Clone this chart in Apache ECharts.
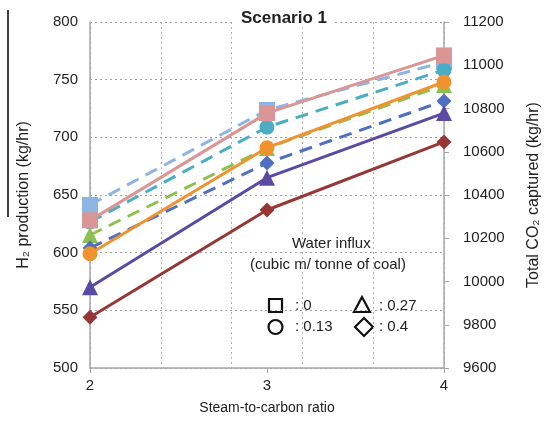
<!DOCTYPE html>
<html>
<head>
<meta charset="utf-8">
<script src="https://cdn.jsdelivr.net/npm/echarts@6/dist/echarts.min.js"></script>
<style>
  html, body { margin: 0; padding: 0; background: #fff; }
  #chart { width: 544px; height: 427px; }
</style>
</head>
<body>
<div id="chart"></div>
<script>
// steam-to-carbon ratio
var ratios = [2, 3, 4]

// H2 production (kg/hr), left axis, solid lines
var h2Water0 = [628, 721, 771]
var h2Water013 = [599, 691, 748]
var h2Water027 = [570, 665, 721]
var h2Water04 = [544, 637, 696]

// total CO2 captured (kg/hr), right axis, dashed lines
var co2Water0 = [10354, 10793, 11015]
var co2Water013 = [10275, 10714, 10978]
var co2Water027 = [10215, 10617, 10909]
var co2Water04 = [10155, 10548, 10835]

var leftTicks = [500, 800, 50]
var rightTicks = [9600, 11200, 200]

function pairs(vals) {
  return ratios.map(function (r, i) { return [r, vals[i]] })
}

var chart = echarts.init(document.getElementById('chart'))
var font = 'Liberation Sans, Arial, sans-serif'
var grid = '#a6a6a6'

function line(name, vals, color, symbol, size, dashed, axis) {
  return {
    name: name,
    type: 'line',
    yAxisIndex: axis,
    data: pairs(vals),
    symbol: symbol,
    symbolSize: size,
    lineStyle: { color: color, width: 3, type: dashed ? [13, 8] : 'solid' },
    itemStyle: { color: color },
    z: dashed ? 2 : 3,
    animation: false
  }
}

chart.setOption({
  animation: false,
  title: {
    text: 'Scenario 1',
    left: 278,
    textAlign: 'center',
    top: 9,
    backgroundColor: '#fff',
    padding: [1, 6],
    textStyle: { fontFamily: font, fontSize: 17, fontWeight: 'bold', color: '#222' }
  },
  grid: { left: 90, right: 100, top: 22, bottom: 59, outerBoundsMode: 'none' },
  xAxis: [
    {
      type: 'value',
      min: 2,
      max: 4,
      interval: 1,
      name: 'Steam-to-carbon ratio',
      nameLocation: 'middle',
      nameGap: 33,
      nameTextStyle: { fontFamily: font, fontSize: 14, color: '#222' },
      axisLine: { lineStyle: { color: grid, width: 1.5 } },
      axisTick: { show: true, length: 5, lineStyle: { color: grid } },
      axisLabel: { fontFamily: font, fontSize: 15, color: '#222', margin: 10 },
      splitLine: { show: false }
    },
    {
      type: 'value',
      min: 2,
      max: 4,
      interval: 0.4,
      position: 'bottom',
      axisLine: { show: false },
      axisTick: { show: false },
      axisLabel: { show: false },
      splitLine: { show: true, lineStyle: { color: '#b0b0b0', type: [2, 3], width: 1 } }
    }
  ],
  yAxis: [
    {
      type: 'value',
      min: leftTicks[0],
      max: leftTicks[1],
      interval: leftTicks[2],
      name: 'H\u2082 production (kg/hr)',
      nameLocation: 'middle',
      nameGap: 58,
      nameTextStyle: { fontFamily: font, fontSize: 16, color: '#222' },
      axisLine: { show: true, lineStyle: { color: grid, width: 1.5 } },
      axisTick: { show: false },
      axisLabel: { fontFamily: font, fontSize: 15, color: '#222', margin: 12 },
      splitLine: { show: true, lineStyle: { color: '#a0a0a0', type: [2, 3], width: 1 } }
    },
    {
      type: 'value',
      min: rightTicks[0],
      max: rightTicks[1],
      interval: rightTicks[2],
      position: 'right',
      name: 'Total CO\u2082 captured (kg/hr)',
      nameLocation: 'middle',
      nameGap: 82,
      nameTextStyle: { fontFamily: font, fontSize: 16, color: '#222' },
      axisLine: { show: true, lineStyle: { color: grid, width: 1.5 } },
      axisTick: { show: true, length: 5, lineStyle: { color: grid } },
      axisLabel: { fontFamily: font, fontSize: 15, color: '#222', margin: 19, formatter: function (v) { return String(v) } },
      splitLine: { show: false }
    }
  ],
  graphic: [
    { type: 'line', shape: { x1: 8, y1: 10, x2: 8, y2: 217 }, style: { stroke: '#000', lineWidth: 1.5 } },
    { type: 'text', left: 292, top: 236, style: { text: 'Water influx', font: '15px ' + font, fill: '#222' } },
    { type: 'text', left: 250, top: 257, style: { text: '(cubic m/ tonne of coal)', font: '15px ' + font, fill: '#222' } },
    { type: 'rect', shape: { x: 269, y: 299, width: 13, height: 13 }, style: { fill: 'none', stroke: '#111', lineWidth: 2.2 } },
    { type: 'text', left: 295, top: 298, style: { text: ': 0', font: '15px ' + font, fill: '#222' } },
    { type: 'polygon', shape: { points: [[362, 297], [354, 312], [370, 312]] }, style: { fill: 'none', stroke: '#111', lineWidth: 2.2 } },
    { type: 'text', left: 379, top: 298, style: { text: ': 0.27', font: '15px ' + font, fill: '#222' } },
    { type: 'circle', shape: { cx: 275.5, cy: 327, r: 7 }, style: { fill: 'none', stroke: '#111', lineWidth: 2.2 } },
    { type: 'text', left: 295, top: 319, style: { text: ': 0.13', font: '15px ' + font, fill: '#222' } },
    { type: 'polygon', shape: { points: [[364, 318], [373, 327], [364, 336], [355, 327]] }, style: { fill: 'none', stroke: '#111', lineWidth: 2.2 } },
    { type: 'text', left: 379, top: 319, style: { text: ': 0.4', font: '15px ' + font, fill: '#222' } }
  ],
  series: [
    line('CO2, 0', co2Water0, '#8eb4e3', 'rect', 16, true, 1),
    line('CO2, 0.13', co2Water013, '#4bacc6', 'circle', 15, true, 1),
    line('CO2, 0.27', co2Water027, '#8dc04f', 'triangle', 16, true, 1),
    line('CO2, 0.4', co2Water04, '#4f6fc0', 'diamond', 15, true, 1),
    line('H2, 0', h2Water0, '#d99694', 'rect', 16, false, 0),
    line('H2, 0.13', h2Water013, '#f0922e', 'circle', 15, false, 0),
    line('H2, 0.27', h2Water027, '#5b4aa3', 'triangle', 16, false, 0),
    line('H2, 0.4', h2Water04, '#953735', 'diamond', 15, false, 0)
  ]
})
</script>
</body>
</html>
